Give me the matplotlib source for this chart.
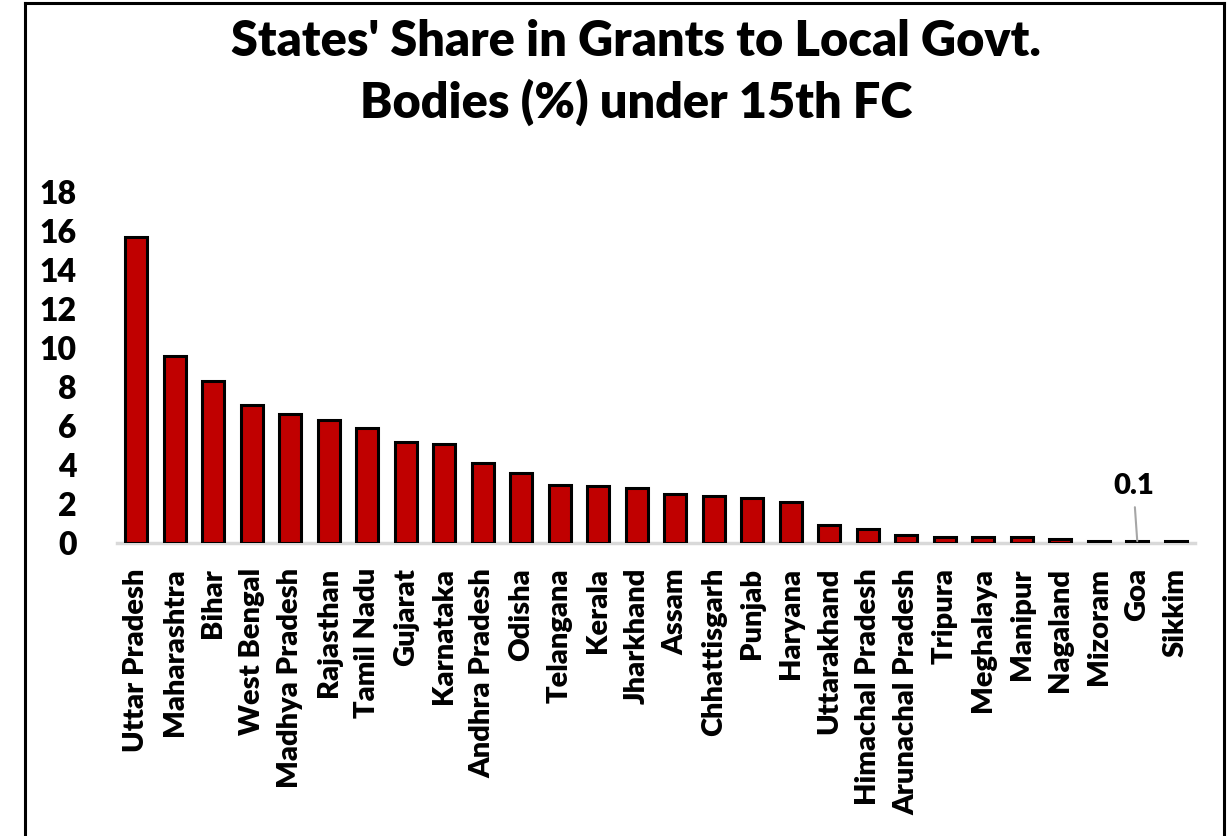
import matplotlib
matplotlib.use("Agg")
import matplotlib.pyplot as plt
from matplotlib.lines import Line2D

states = ["Uttar Pradesh", "Maharashtra", "Bihar", "West Bengal", "Madhya Pradesh",
          "Rajasthan", "Tamil Nadu", "Gujarat", "Karnataka", "Andhra Pradesh",
          "Odisha", "Telangana", "Kerala", "Jharkhand", "Assam", "Chhattisgarh",
          "Punjab", "Haryana", "Uttarakhand", "Himachal Pradesh", "Arunachal Pradesh",
          "Tripura", "Meghalaya", "Manipur", "Nagaland", "Mizoram", "Goa", "Sikkim"]
share = [15.7, 9.6, 8.3, 7.1, 6.6, 6.3, 5.9, 5.2, 5.1, 4.1,
         3.6, 3.0, 2.9, 2.8, 2.5, 2.4, 2.3, 2.1, 0.9, 0.7, 0.4,
         0.3, 0.3, 0.3, 0.2, 0.1, 0.1, 0.1]
yticks = [0, 2, 4, 6, 8, 10, 12, 14, 16, 18]
title_lines = ["States' Share in Grants to Local Govt.", "Bodies (%) under 15th FC"]
annot_label = "0.1"
annot_state = "Goa"

plt.rcParams['font.family'] = ['Lato', 'DejaVu Sans']

fig = plt.figure(figsize=(12.29, 8.36), dpi=100)
W, H = 1229, 836

# outer frame
for xs, ys in [([25/W, 25/W], [0, 1 - 3/H]),
               ([1224/W, 1224/W], [0, 1 - 3/H]),
               ([25/W, 1224/W], [1 - 3/H, 1 - 3/H])]:
    fig.add_artist(Line2D(xs, ys, color='black', lw=2.2, transform=fig.transFigure))

left, right = 117/W, 1195/W
bottom, top = (H - 543)/H, (H - 192)/H
ax = fig.add_axes([left, bottom, right - left, top - bottom])

x = list(range(len(states)))
ax.bar(x, share, width=0.57, color='#C00000', edgecolor='black', linewidth=2.2, zorder=3)
ax.set_xlim(-0.5, len(states) - 0.5)
ax.set_ylim(0, 18)
ax.set_yticks(yticks)
ax.set_yticklabels([str(t) for t in yticks], fontsize=23, fontweight='heavy')
ax.set_xticks(x)
ax.set_xticklabels(states, rotation=90, fontsize=21, fontweight='heavy', va='top', ha='center')
ax.tick_params(axis='y', length=0, pad=29)
ax.tick_params(axis='x', length=0, pad=18)
for s in ['top', 'right', 'left']:
    ax.spines[s].set_visible(False)
ax.spines['bottom'].set_color('#D9D9D9')
ax.spines['bottom'].set_linewidth(2.5)
ax.spines['bottom'].set_zorder(2)

gi = states.index(annot_state)
ax.annotate(annot_label, xy=(gi, share[gi]), xytext=(gi - 0.1, 2.93),
            fontsize=21, fontweight='heavy', ha='center', va='center',
            arrowprops=dict(arrowstyle='-', color='#A6A6A6', lw=1.5, shrinkA=4, shrinkB=0))

fig.text(636/W, 1 - 42/H, title_lines[0], fontsize=35, fontweight='heavy', ha='center', va='center')
fig.text(636/W, 1 - 102/H, title_lines[1], fontsize=35, fontweight='heavy', ha='center', va='center')

fig.savefig('out.png', dpi=100)
